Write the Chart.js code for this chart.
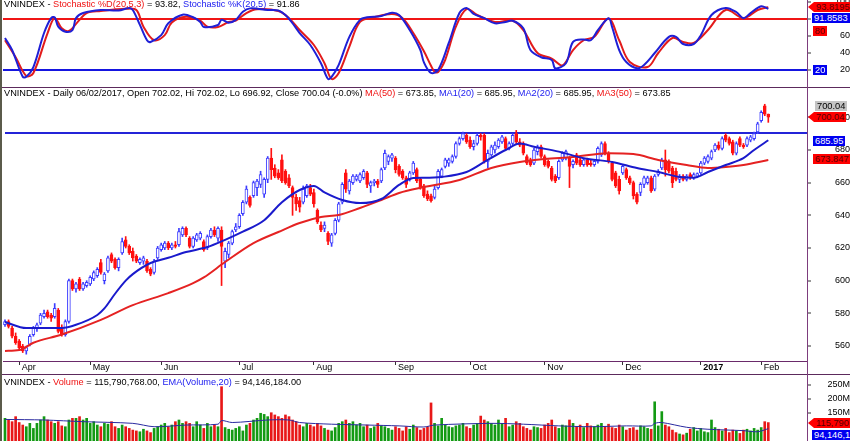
<!DOCTYPE html>
<html>
<head>
<meta charset="utf-8">
<script src="https://cdn.jsdelivr.net/npm/chart.js@4.4.1/dist/chart.umd.min.js"></script>
<style>
  body { margin: 0; background: #fff; }
  #wrap { position: relative; width: 850px; height: 441px; overflow: hidden; font-family: "Liberation Sans", Arial, sans-serif; }
  canvas { position: absolute; left: 0; }
  .title { position: absolute; left: 4px; font-size: 9.2px; line-height: 10px; white-space: nowrap; color: #000; z-index: 2; }
  .r { color: #f01010; }
  .b { color: #2020f0; }
  .tag { position: absolute; height: 10px; line-height: 10px; font-size: 9.3px; padding: 0 2px; white-space: nowrap; z-index: 3; }
  .red { background: #ff0000; color: #5a0000; }
  .blue { background: #0000f0; color: #fff; }
  .grey { background: #c4c4c4; color: #000; }
  .arrow { padding-left: 8px; clip-path: polygon(6px 0, 100% 0, 100% 100%, 6px 100%, 0 50%); }
  .hline { position: absolute; left: 0; width: 850px; height: 1px; background: #5c2a5c; z-index: 2; }
  .vline { position: absolute; top: 0; width: 1px; height: 441px; z-index: 2; }
</style>
</head>
<body>
<div id="wrap">
  <canvas id="stoch" width="850" height="88" style="top:0"></canvas>
  <canvas id="price" width="850" height="286" style="top:88px"></canvas>
  <canvas id="vol" width="850" height="67" style="top:374px"></canvas>

  <div class="hline" style="top:87px"></div>
  <div class="hline" style="top:374px"></div>
  <div class="vline" style="left:807px;background:#7d3d7d"></div>
  <div class="vline" style="left:0;width:2px;background:#5b5b4b"></div>

  <div class="title" style="top:-1px">VNINDEX - <span class="r">Stochastic %D(20,5,3)</span> = 93.82, <span class="b">Stochastic %K(20,5)</span> = 91.86</div>
  <div class="title" style="top:88px">VNINDEX - Daily 06/02/2017, Open 702.02, Hi 702.02, Lo 696.92, Close 700.04 (-0.0%) <span class="r">MA(50)</span> = 673.85, <span class="b">MA1(20)</span> = 685.95, <span class="b">MA2(20)</span> = 685.95, <span class="r">MA3(50)</span> = 673.85</div>
  <div class="title" style="top:377px">VNINDEX - <span class="r">Volume</span> = 115,790,768.00, <span class="b">EMA(Volume,20)</span> = 94,146,184.00</div>

  <div class="tag red arrow" style="left:808px;top:2px">93.8195</div>
  <div class="tag blue" style="left:812px;top:13px">91.8583</div>
  <div class="tag red" style="left:813px;top:26px">80</div>
  <div class="tag blue" style="left:813px;top:65px">20</div>

  <div class="tag grey" style="left:815px;top:101px">700.04</div>
  <div class="tag red arrow" style="left:808px;top:112px">700.04</div>
  <div class="tag blue" style="left:813px;top:136px">685.95</div>
  <div class="tag red" style="left:813px;top:154px">673.847</div>

  <div class="tag red arrow" style="left:808px;top:418px">115,790,768</div>
  <div class="tag blue" style="left:812px;top:430px">94,146,184</div>
</div>
<script>
// daily candles, 28/03/2016 .. 06/02/2017 (one entry per trading day)
var opens = [
  573,575,571,566,563,560,557,561,567,571,574,578,581,579,578,582,571,567,575,600,
  595,601,595,597,598,601,603,611,600,606,616,613,608,617,625,621,618,615,611,612,
  612,607,605,614,619,620,623,620,622,622,628,632,626,621,625,626,624,620,627,631,
  626,631,612,616,623,631,633,641,648,651,652,657,659,653,662,675,669,666,674,667,
  663,657,651,649,648,652,657,654,643,634,632,629,623,629,637,648,666,655,660,662,
  661,663,666,658,660,661,661,669,673,675,675,670,667,663,662,666,668,662,658,653,
  652,651,657,664,670,672,673,676,684,687,689,686,682,684,689,689,673,677,680,682,
  685,687,681,684,690,685,684,676,674,672,679,682,676,673,669,664,663,674,675,675,
  671,677,674,671,674,672,671,673,677,684,678,672,666,662,666,668,663,660,653,654,
  659,660,663,656,665,669,674,673,669,667,662,664,662,665,663,664,666,672,673,675,
  680,683,681,689,687,685,678,687,683,683,686,687,691,698,707,702.02
];
var highs = [
  576,576,572,568,564,561,560,567,572,574,580,582,582,580,586,583,573,576,601,601,
  599,602,599,600,603,606,608,613,605,615,617,614,614,626,627,622,620,616,614,615,
  613,608,613,621,623,624,624,623,624,632,633,633,627,627,629,630,625,628,632,633,
  633,633,620,624,631,635,641,649,658,652,661,662,667,663,676,681,671,668,677,668,
  665,658,653,651,658,659,659,656,644,636,636,630,629,638,648,660,668,662,665,665,
  666,668,667,661,662,662,669,680,677,678,676,671,668,664,667,673,669,663,659,655,
  653,658,668,669,675,675,677,685,688,691,690,688,686,690,690,690,680,683,685,687,
  689,688,685,690,692,687,685,677,675,681,683,683,677,674,670,665,674,679,680,676,
  674,678,675,675,675,674,674,682,685,685,679,673,667,664,671,669,664,661,654,660,
  664,664,664,665,668,675,680,674,670,669,665,665,665,666,666,666,673,676,677,680,
  684,685,688,690,688,686,685,688,684,688,689,691,697,704,708,702.02
];
var lows = [
  572,571,565,561,558,556,555,560,566,569,573,577,577,575,577,568,566,566,574,594,
  593,594,594,596,597,600,602,604,598,605,611,607,606,616,620,616,612,611,610,610,
  605,603,604,613,618,619,619,619,620,621,627,627,620,620,624,625,618,619,626,627,
  624,597,608,614,622,630,632,640,647,645,651,652,657,651,660,662,663,662,660,659,
  657,640,643,642,647,651,652,645,635,630,630,622,621,628,636,647,654,653,659,661,
  660,662,657,654,658,657,660,668,671,673,666,664,662,657,661,665,660,656,651,649,
  648,650,656,663,669,670,672,675,683,686,684,681,680,683,686,672,669,676,678,681,
  684,680,680,683,684,682,677,671,670,671,677,675,670,669,661,660,662,673,674,657,
  669,671,670,670,670,670,670,672,676,677,672,661,657,653,665,662,659,650,647,652,
  657,659,654,655,664,668,664,666,657,661,660,661,661,662,662,663,665,671,672,674,
  679,680,680,685,683,677,677,682,681,682,685,686,690,697,701,696.92
];
var closes = [
  575,572,566,562,559,557,559,566,571,573,579,580,578,577,583,569,567,575,600,595,
  598,595,598,599,602,605,607,605,604,614,612,608,613,624,621,617,614,612,613,614,
  606,604,612,620,622,623,620,622,621,630,632,628,621,626,628,629,619,627,631,628,
  632,621,618,623,630,633,640,648,656,646,660,661,665,662,675,668,664,663,661,660,
  658,651,647,645,656,658,653,647,636,631,634,624,628,637,647,659,656,661,664,664,
  665,667,659,660,661,659,668,678,676,677,668,665,663,659,666,672,661,657,652,650,
  649,656,667,668,674,674,676,684,687,690,685,682,684,689,688,673,678,682,683,686,
  688,681,684,689,685,683,678,672,671,680,682,676,671,670,662,661,673,678,679,670,
  673,672,671,674,671,671,673,681,684,678,673,662,658,655,670,663,660,652,648,659,
  663,663,655,664,667,674,668,667,660,662,664,662,664,663,665,665.5,672,675,676,679,
  683,681,687,686,684,678,684,683,682,687,688,690,696,703,702,700.04
];
// volume in millions of shares
var volumes = [
  131,125,119,137,116,107,101,113,95,113,125,137,125,119,113,119,104,101,125,131,
  131,137,125,131,113,119,107,101,113,110,119,101,95,107,101,95,89,86,83,92,
  86,80,95,101,107,113,101,107,119,125,113,119,113,101,119,107,95,113,101,107,
  101,244,98,92,89,95,101,86,107,113,125,131,149,145,137,151,143,137,131,143,
  137,125,119,107,101,113,107,101,113,104,95,89,86,98,113,119,125,113,119,107,
  113,101,107,95,101,113,104,101,95,89,101,95,86,101,92,107,98,89,95,101,
  186,113,104,131,107,101,98,104,107,113,101,95,107,113,139,125,119,113,107,125,
  113,131,101,107,119,113,101,95,89,101,98,95,107,113,125,101,95,107,104,125,
  113,101,107,98,113,104,101,107,113,101,110,98,95,107,101,89,95,98,89,104,
  101,95,92,190,104,155,107,101,89,80,75,72,78,92,98,86,95,83,80,125,
  98,92,86,95,80,89,86,77,89,92,86,95,89,98,119,115.79
];

// indicator lines: [day index, value]
var ma20 = [
  [0,574.7],[6,571],[16,571],[20,573],[26,579],[28,583],[31,592],[34,600],[36,604],[41,610.8],
  [46,614],[51,617.5],[57,620.6],[62,625],[67,630],[73,637],[78,648],[83,655.5],[87,658],[90,654],
  [95,649.4],[100,647.5],[106,650],[111,658.6],[115,662.9],[118,663],[123,663.5],[130,666.5],[136,674],[141,680],
  [145,684],[149,682],[156,679],[163,675],[171,672.7],[178,669],[184,666.5],[190,663.5],[194,663],[198,666.5],
  [203,670.8],[208,675],[211,680],[215,685.95]
];
var ma50 = [
  [0,557],[4,557.5],[8,562],[16,567],[27,576],[36,585],[46,592.4],[53,598.5],[56,602],[62,611.4],
  [70,623],[77,629.8],[83,635.3],[89,639],[94,640.2],[100,644.5],[106,649.4],[111,653.7],[118,657.3],[128,661.6],
  [137,669],[145,672.7],[152,674.5],[160,675.7],[170,678],[177,677.5],[184,673.9],[192,670.8],[198,669],[203,669.6],
  [208,670.8],[215,673.85]
];
var stochK = [
  [0,57.6],[2,43.5],[5,12],[6,12],[8,23.5],[11,63.5],[13,81],[14,82],[15,71],[17,65],
  [19,67],[20,81],[22,87],[27,90.6],[32,90],[35,93],[36,90.6],[38,73],[40,55],[41,53],
  [44,61],[46,75],[50,85],[53,82],[55,76.5],[56,70.6],[60,73],[61,79],[63,75.6],[65,79],
  [67,88.6],[69,92.5],[74,90.6],[77,90],[79,84.7],[81,75],[83,63.5],[86,49.4],[89,28],[91,9.4],
  [92,11.8],[94,26],[97,59],[100,79],[102,82],[106,83.5],[109,87.4],[111,84.7],[114,67],[117,43.5],
  [118,29],[120,16.5],[122,20],[125,51.8],[128,87],[130,93],[132,86],[135,81],[138,75],[141,76.5],
  [143,78],[146,69],[148,43.5],[151,35],[154,31.8],[155,22],[158,28],[160,53],[163,56],[165,55],
  [167,67],[170,81],[171,70.6],[173,43.5],[175,29.4],[178,22],[180,26],[183,40],[187,59],[189,59],
  [191,50.6],[194,50.6],[196,61],[199,84.7],[203,93],[206,88],[208,81],[210,87],[213,95],[215,91.86]
];
var stochD = [
  [0,55],[3,35],[6,13],[8,16.5],[12,63.5],[14,81],[16,69],[18,66],[21,79],[23,87],
  [27,89.4],[34,92],[37,90.6],[39,71],[42,55],[45,61],[47,76],[51,82.7],[55,78],[57,71],
  [60,70.6],[63,76.5],[65,78],[68,87],[71,91.4],[77,89.4],[80,81],[83,67],[87,49.4],[90,28],
  [92,9.4],[94,16.5],[97,47.6],[100,76.5],[104,82],[109,86],[112,81],[115,63.5],[118,42],[120,25],
  [121,18],[122,17.5],[124,32],[127,71],[130,91.7],[133,84.7],[138,76.5],[143,78],[146,67],[150,40],
  [154,33.5],[157,25.5],[160,43.5],[163,55],[166,59],[170,80.6],[173,55],[176,29.4],[181,23.5],[184,40],
  [188,57.6],[191,53],[194,51.8],[198,67],[203,90.6],[208,81],[212,90.6],[215,93.82]
];
var volEma = [
  [0,127],[11,125],[22,119],[36,113],[42,101],[51,107],[60,110],[61,123],[64,116],[74,125],
  [80,125],[83,116],[92,110],[102,107],[111,104],[118,100],[121,107],[137,113],[146,110],[156,104],
  [165,101],[175,104],[182,104],[183,113],[185,116],[192,99],[198,92],[208,87],[212,83],[215,94.15]
];

var monthIdx = [4, 24, 44, 66, 87, 110, 131, 152, 174, 196, 213];
var monthLabels = ['Apr', 'May', 'Jun', 'Jul', 'Aug', 'Sep', 'Oct', 'Nov', 'Dec', '2017', 'Feb'];
var priceTicks = [560, 580, 600, 620, 640, 660, 680, 700];
var stochTicks = [20, 40, 60, 80, 100];
var volTicks = [150, 200, 250];
var resistance = 690.4;

var X_MIN = -0.56, X_MAX = 225.9;
var UP = '#3c3cff', DOWN = '#ff1010';

Chart.defaults.font.family = '"Liberation Sans", Arial, sans-serif';
Chart.defaults.font.size = 9;
Chart.defaults.color = '#000';

function series(pairs) {
    return pairs.map(function(p) { return {x: p[0], y: p[1]}; });
}

function isUp(i) {
    return closes[i] >= opens[i];
}

/**
 * Shared time axis, month ticks only.
 * @param {boolean} show draw the axis
 * @returns {object}
 */
function xAxis(show) {
    return {
        type: 'linear', min: X_MIN, max: X_MAX, offset: false, display: show,
        border: {color: '#6a2a6a', width: 1},
        grid: {drawOnChartArea: false, offset: false, tickLength: 4, tickColor: '#333'},
        afterBuildTicks: function(s) {
            s.ticks = monthIdx.map(function(v) { return {value: v}; });
        },
        afterFit: function(s) {
            if (show) {
                s.height = 13;
            }
            s.paddingLeft = 0;
            s.paddingRight = 0;
        },
        ticks: {
            autoSkip: false, maxRotation: 0, align: 'start', padding: -3,
            callback: function(v, k) { return ' ' + monthLabels[k]; },
            font: function(c) {
                return {size: 9, weight: monthLabels[c.index] === '2017' ? 'bold' : 'normal'};
            }
        }
    };
}

/**
 * Right value axis.
 * @param {object} o min, max, ticks, pad, fmt, grid
 * @returns {object}
 */
function yAxis(o) {
    return {
        type: 'linear', position: 'right', min: o.min, max: o.max,
        border: {color: '#7d3d7d', width: 1},
        grid: {
            drawOnChartArea: !!o.grid, color: o.grid || 'rgba(0,0,0,0)', lineWidth: 2,
            tickLength: 4, tickColor: '#333', tickWidth: 1
        },
        afterBuildTicks: function(s) {
            s.ticks = o.ticks.map(function(v) { return {value: v}; });
        },
        afterFit: function(s) {
            s.width = 43;
            s.paddingTop = 0;
            s.paddingBottom = 0;
        },
        ticks: {padding: o.pad, crossAlign: 'far', callback: o.fmt}
    };
}

var common = {
    responsive: false, animation: false, devicePixelRatio: 1,
    plugins: {legend: {display: false}, tooltip: {enabled: false}}
};

function opts(extra) {
    return Object.assign({}, common, extra);
}

// stochastic panel
new Chart(document.getElementById('stoch'), {
    type: 'line',
    data: {
        datasets: [
            {data: series(stochK), borderColor: '#1f1fd6', borderWidth: 2, pointRadius: 0, tension: 0.35, order: 0},
            {data: series(stochD), borderColor: '#e31b1b', borderWidth: 2, pointRadius: 0, tension: 0.35, order: 1}
        ]
    },
    options: opts({
        layout: {padding: {left: 3, top: 0, right: 0, bottom: 1}},
        scales: {
            x: xAxis(false),
            y: yAxis({
                min: 0, max: 102.35, ticks: stochTicks, pad: 23,
                fmt: function(v) { return String(v); },
                grid: function(c) {
                    if (c.tick && c.tick.value === 80) { return '#f01515'; }
                    if (c.tick && c.tick.value === 20) { return '#1515e0'; }
                    return 'rgba(0,0,0,0)';
                }
            })
        }
    })
});

var levelLine = {
    id: 'levelLine',
    beforeDatasetsDraw: function(chart) {
        var a = chart.chartArea,
            y = chart.scales.y.getPixelForValue(resistance),
            c = chart.ctx;
        c.save();
        c.strokeStyle = '#2424d8';
        c.lineWidth = 2;
        c.beginPath();
        c.moveTo(a.left + 2, y);
        c.lineTo(a.right, y);
        c.stroke();
        c.restore();
    }
};

// price panel
new Chart(document.getElementById('price'), {
    type: 'bar',
    data: {
        datasets: [
            {
                type: 'line', data: series(ma20), borderColor: '#1a1acc', borderWidth: 2,
                pointRadius: 0, cubicInterpolationMode: 'monotone', order: 0
            },
            {
                type: 'line', data: series(ma50), borderColor: '#e52222', borderWidth: 2,
                pointRadius: 0, cubicInterpolationMode: 'monotone', order: 0
            },
            {
                data: closes.map(function(c, i) { return {x: i, y: [opens[i], c]}; }),
                backgroundColor: closes.map(function(c, i) { return isUp(i) ? '#ffffff' : DOWN; }),
                borderColor: closes.map(function(c, i) { return isUp(i) ? UP : DOWN; }),
                borderWidth: 1, borderSkipped: false, barThickness: 3, minBarLength: 1,
                grouped: false, order: 1
            },
            {
                data: closes.map(function(c, i) { return {x: i, y: [lows[i], highs[i]]}; }),
                backgroundColor: closes.map(function(c, i) { return isUp(i) ? UP : DOWN; }),
                borderWidth: 0, barThickness: 1, grouped: false, order: 2
            }
        ]
    },
    options: opts({
        layout: {padding: {left: 3, top: 0, right: 0, bottom: 0}},
        scales: {
            x: xAxis(true),
            y: yAxis({
                min: 550.82, max: 717.96, ticks: priceTicks, pad: 23,
                fmt: function(v) { return String(v); }
            })
        }
    }),
    plugins: [levelLine]
});

// volume panel
new Chart(document.getElementById('vol'), {
    type: 'bar',
    data: {
        datasets: [
            {
                type: 'line', data: series(volEma), borderColor: '#2a2aa0', borderWidth: 1,
                pointRadius: 0, tension: 0.3, order: 0
            },
            {
                data: volumes.map(function(v, i) { return {x: i, y: v}; }),
                backgroundColor: volumes.map(function(v, i) { return isUp(i) ? '#139a13' : '#e81818'; }),
                borderWidth: 0, barThickness: 2, grouped: false, order: 1
            }
        ]
    },
    options: opts({
        layout: {padding: {left: 3, top: 1, right: 0, bottom: 0}},
        scales: {
            x: xAxis(false),
            y: yAxis({
                min: 50, max: 285.7, ticks: volTicks, pad: 17,
                fmt: function(v) { return v + 'M'; }
            })
        }
    })
});
</script>
</body>
</html>
